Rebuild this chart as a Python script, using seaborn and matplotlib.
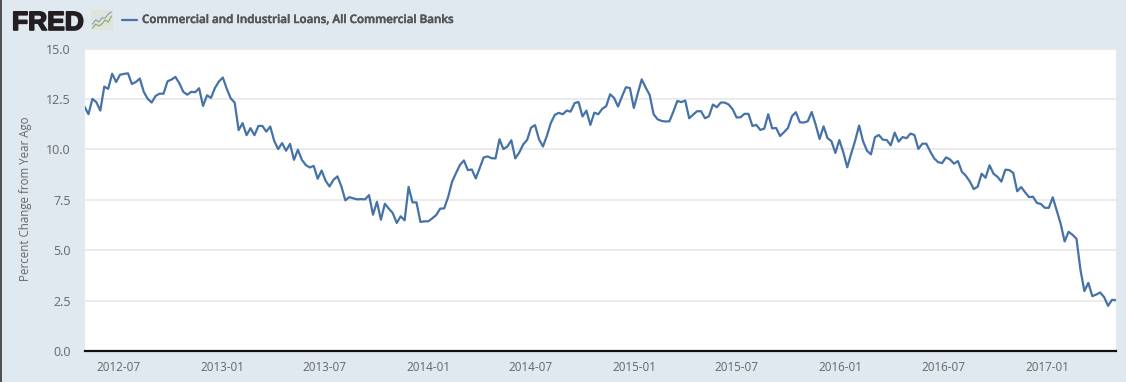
import pandas as pd
import matplotlib
matplotlib.use('Agg')
import matplotlib.pyplot as plt
import matplotlib.dates as mdates
import matplotlib.patheffects as pe
import seaborn as sns

# Weekly values
start_date = '2012-05-02'
values = [
    12.12, 11.74, 12.50, 12.34, 11.92, 13.11, 13.00, 13.75, 13.34, 13.70,
    13.74, 13.77, 13.24, 13.34, 13.51, 12.85, 12.50, 12.32, 12.65, 12.76,
    12.76, 13.37, 13.46, 13.59, 13.28, 12.85, 12.71, 12.85, 12.83, 13.03,
    12.15, 12.68, 12.55, 13.04, 13.36, 13.56, 13.00, 12.53, 12.32, 10.95,
    11.30, 10.70, 11.05, 10.70, 11.16, 11.16, 10.88, 11.13, 10.42, 10.01,
    10.31, 9.93, 10.27, 9.48, 9.98, 9.48, 9.22, 9.10, 9.18, 8.54,
    8.95, 8.44, 8.16, 8.49, 8.66, 8.16, 7.47, 7.63, 7.57, 7.52,
    7.53, 7.52, 7.73, 6.76, 7.40, 6.51, 7.30, 7.06, 6.84, 6.35,
    6.68, 6.48, 8.14, 7.37, 7.37, 6.40, 6.43, 6.43, 6.58, 6.74,
    7.06, 7.07, 7.63, 8.39, 8.82, 9.23, 9.45, 8.97, 9.00, 8.56,
    9.07, 9.60, 9.65, 9.56, 9.55, 10.50, 10.01, 10.14, 10.45, 9.55,
    9.84, 10.24, 10.47, 11.08, 11.20, 10.50, 10.14, 10.67, 11.31, 11.71,
    11.81, 11.74, 11.92, 11.87, 12.29, 12.35, 11.63, 11.92, 11.21, 11.82,
    11.74, 12.01, 12.14, 12.73, 12.55, 12.12, 12.62, 13.08, 13.04, 12.05,
    12.78, 13.47, 13.06, 12.70, 11.74, 11.49, 11.41, 11.38, 11.39, 11.87,
    12.40, 12.34, 12.42, 11.54, 11.72, 11.89, 11.89, 11.54, 11.64, 12.22,
    12.09, 12.32, 12.32, 12.22, 11.99, 11.58, 11.59, 11.76, 11.76, 11.16,
    11.21, 10.96, 11.03, 11.74, 11.04, 11.06, 10.66, 10.85, 11.06, 11.64,
    11.84, 11.34, 11.33, 11.39, 11.85, 11.23, 10.51, 11.14, 10.56, 10.40,
    9.82, 10.46, 9.85, 9.11, 9.79, 10.43, 11.18, 10.40, 9.93, 9.75,
    10.60, 10.71, 10.48, 10.46, 10.20, 10.83, 10.38, 10.61, 10.55, 10.78,
    10.71, 10.02, 10.28, 10.28, 9.89, 9.55, 9.36, 9.32, 9.60, 9.50,
    9.29, 9.42, 8.89, 8.69, 8.41, 8.03, 8.15, 8.79, 8.59, 9.21,
    8.79, 8.64, 8.40, 8.99, 8.97, 8.83, 7.92, 8.13, 7.87, 7.63,
    7.65, 7.34, 7.29, 7.10, 7.10, 7.62, 6.96, 6.31, 5.43, 5.91,
    5.76, 5.57, 4.03, 2.97, 3.38, 2.72, 2.80, 2.90, 2.67, 2.24,
    2.54, 2.52,
]
y_ticks = [0.0, 2.5, 5.0, 7.5, 10.0, 12.5, 15.0]
x_ticks = ['2012-07', '2013-01', '2013-07', '2014-01', '2014-07', '2015-01',
           '2015-07', '2016-01', '2016-07', '2017-01']
series_name = 'Commercial and Industrial Loans, All Commercial Banks'

df = pd.DataFrame({'date': pd.date_range(start_date, periods=len(values), freq='7D'),
                   'value': values})

bg = '#e1e9f0'
line_color = '#4572a7'
text_color = '#666666'

sns.set_theme(style='white')
plt.rcParams['font.family'] = ['Open Sans', 'DejaVu Sans']

fig = plt.figure(figsize=(11.26, 3.82), dpi=100, facecolor=bg)
W, H = 1126, 382
ax = fig.add_axes([84.5 / W, 1 - 351 / H, (1116 - 84.5) / W, (351 - 48.5) / H])
ax.set_facecolor('white')

sns.lineplot(data=df, x='date', y='value', color=line_color, linewidth=1.6, ax=ax, zorder=3)

ax.set_xlim(df['date'].iloc[0], df['date'].iloc[-1])
ax.set_ylim(0, 15)
ax.set_yticks(y_ticks)
ax.set_yticklabels([f'{t:.1f}' for t in y_ticks])
ax.set_xticks(mdates.date2num(pd.to_datetime(x_ticks)))
ax.set_xticklabels(x_ticks)
ax.grid(axis='y', color='#e6e6e6', linewidth=1.1)
ax.set_axisbelow(True)

for side in ['top', 'left', 'right']:
    ax.spines[side].set_visible(False)
ax.spines['bottom'].set_color('#111111')
ax.spines['bottom'].set_linewidth(1.6)

ax.tick_params(axis='x', length=7, width=1, color='#d3dfec', labelsize=8.4,
               labelcolor=text_color, pad=0)
ax.tick_params(axis='y', length=0, labelsize=9, labelcolor=text_color, pad=10)

ax.set_xlabel('')
ax.set_ylabel('Percent Change from Year Ago', fontsize=8.3, color=text_color)
ax.yaxis.set_label_coords(32 / W, 1 - 199 / H, transform=fig.transFigure)

# Header: logo, little icon, legend entry
fig.text(12 / W, 1 - 30 / H, 'FRED', fontsize=19, fontweight='bold', color='#231f20',
         family='Liberation Sans', va='baseline', ha='left',
         path_effects=[pe.withStroke(linewidth=1.2, foreground='#231f20')])

icon = fig.add_axes([91 / W, 1 - 30 / H, 22 / W, 20 / H])
icon.set_facecolor('#dfe3dc')
icon.plot([0, 1, 2, 3, 4, 5, 6], [3, 5, 4, 6, 6, 8, 9], color='#7f9fc0', linewidth=0.8)
icon.plot([0, 1, 2, 3, 4, 5, 6], [1, 3, 2, 3, 5, 4, 7], color='#8aa85a', linewidth=0.8)
icon.set_xlim(-0.5, 6.5)
icon.set_ylim(0, 10)
icon.set_xticks([])
icon.set_yticks([])
for side in icon.spines:
    icon.spines[side].set_visible(False)

fig.add_artist(plt.Line2D([122 / W, 137 / W], [1 - 19.5 / H, 1 - 19.5 / H], color=line_color, linewidth=1.6))
fig.text(142 / W, 1 - 19.5 / H, series_name, fontsize=8.35, fontweight='semibold',
         color='#555555', va='center', ha='left',
         path_effects=[pe.withStroke(linewidth=0.35, foreground='#555555')])

# Dark edge on the left of the screenshot
fig.add_artist(plt.Line2D([0.8 / W, 0.8 / W], [0, 1], color='#333333', linewidth=1.2))

fig.savefig('out.png', dpi=100, facecolor=bg)
